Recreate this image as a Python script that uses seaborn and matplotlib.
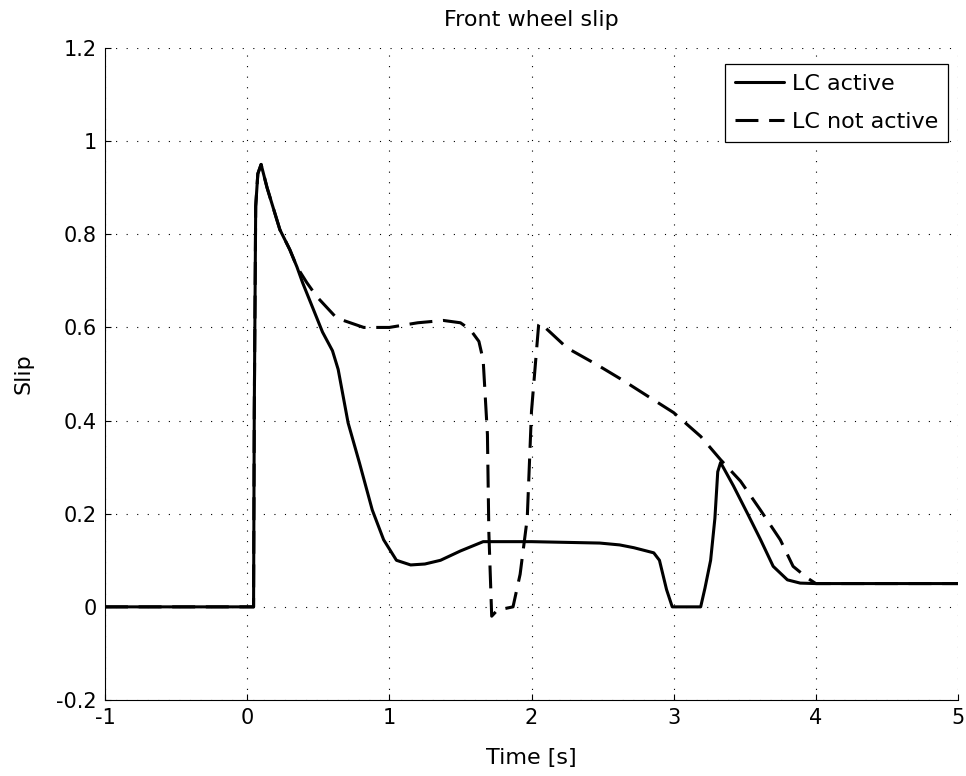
import matplotlib
matplotlib.use("Agg")
import matplotlib.pyplot as plt
from matplotlib.ticker import FuncFormatter
import seaborn as sns
import pandas as pd

# Front wheel slip with launch control (LC) active
time_active = [-1.0, 0.045, 0.05, 0.06, 0.075, 0.098, 0.14, 0.23, 0.30, 0.35,
               0.39, 0.53, 0.60, 0.64, 0.71, 0.79, 0.88, 0.96, 1.05, 1.15, 1.25,
               1.36, 1.50, 1.66, 1.70, 2.00, 2.48, 2.62, 2.72, 2.86, 2.90,
               2.95, 2.99, 3.19, 3.22, 3.26, 3.29, 3.31, 3.33, 3.42, 3.52,
               3.61, 3.70, 3.80, 3.89, 4.00, 5.00]
slip_active = [0.0, 0.0, 0.42, 0.86, 0.93, 0.95, 0.90, 0.81, 0.767, 0.73,
               0.696, 0.59, 0.55, 0.51, 0.395, 0.309, 0.208, 0.144, 0.10, 0.09, 0.092,
               0.10, 0.12, 0.14, 0.14, 0.14, 0.137, 0.133, 0.127, 0.116, 0.10,
               0.037, 0.0, 0.0, 0.04, 0.10, 0.19, 0.29, 0.31, 0.26, 0.20,
               0.145, 0.087, 0.058, 0.051, 0.05, 0.05]

# Front wheel slip without launch control
time_inactive = [-1.0, 0.045, 0.05, 0.06, 0.075, 0.098, 0.14, 0.23, 0.30, 0.35,
                 0.42, 0.49, 0.63, 0.82, 1.00, 1.20, 1.38, 1.50, 1.57, 1.63,
                 1.66, 1.69, 1.70, 1.72, 1.76, 1.87, 1.92, 1.97, 2.00, 2.05,
                 2.06, 2.25, 2.46, 2.64, 2.83, 3.00, 3.19, 3.33, 3.47, 3.61,
                 3.75, 3.84, 3.94, 4.00, 5.00]
slip_inactive = [0.0, 0.0, 0.42, 0.86, 0.93, 0.95, 0.90, 0.81, 0.767, 0.73,
                 0.696, 0.666, 0.62, 0.60, 0.60, 0.61, 0.615, 0.61, 0.595, 0.57,
                 0.53, 0.37, 0.16, -0.02, -0.007, 0.0, 0.07, 0.19, 0.42, 0.605,
                 0.61, 0.556, 0.52, 0.487, 0.45, 0.417, 0.366, 0.316, 0.27, 0.208,
                 0.144, 0.087, 0.062, 0.05, 0.05]

series_labels = ["LC active", "LC not active"]
x_ticks = [-1, 0, 1, 2, 3, 4, 5]
y_ticks = [-0.2, 0.0, 0.2, 0.4, 0.6, 0.8, 1.0, 1.2]

sns.set_style("white")
plt.rcParams["font.family"] = ["DejaVu Sans"]
plt.rcParams["axes.unicode_minus"] = False
plt.rcParams["text.color"] = "black"

fig = plt.figure(figsize=(9.66, 7.76), dpi=100)
ax = fig.add_axes([105 / 966, 1 - 700 / 776, 853 / 966, 652 / 776])

df_active = pd.DataFrame({"time": time_active, "slip": slip_active})
df_inactive = pd.DataFrame({"time": time_inactive, "slip": slip_inactive})

dash_pattern = (7.5, 3.5)

sns.lineplot(data=df_active, x="time", y="slip", ax=ax, color="black",
             linewidth=2.2, estimator=None, sort=False, label=series_labels[0])
sns.lineplot(data=df_inactive, x="time", y="slip", ax=ax, color="black",
             linewidth=2.2, estimator=None, sort=False, label=series_labels[1],
             dashes=False)
ax.lines[1].set_dashes(dash_pattern)

ax.set_xlim(-1, 5)
ax.set_ylim(-0.2, 1.2)
ax.set_xticks(x_ticks)
ax.set_yticks(y_ticks)
fmt = FuncFormatter(lambda v, p: f"{v:g}")
ax.xaxis.set_major_formatter(fmt)
ax.yaxis.set_major_formatter(fmt)

ax.grid(True, color="black", linestyle=(0, (1, 8.5)), linewidth=0.8)
for side in ("top", "right"):
    ax.spines[side].set_visible(False)
for side in ("left", "bottom"):
    ax.spines[side].set_color("black")
    ax.spines[side].set_linewidth(0.8)

ax.tick_params(direction="in", length=4, width=0.8, color="black",
               labelsize=15, pad=6, labelcolor="black",
               bottom=True, left=True)

ax.set_title("Front wheel slip", fontsize=16, color="black", pad=16)
ax.set_xlabel("Time [s]", fontsize=16, color="black", labelpad=14)
ax.set_ylabel("Slip", fontsize=16, color="black", labelpad=16)

leg = ax.legend(loc="upper right", bbox_to_anchor=(0.9883, 0.9755),
                borderaxespad=0, fontsize=16, frameon=True, fancybox=False,
                handlelength=2.2, handletextpad=0.35, labelspacing=0.8,
                borderpad=0.45, labelcolor="black")
frame = leg.get_frame()
frame.set_edgecolor("black")
frame.set_linewidth(0.9)
frame.set_facecolor("white")
frame.set_alpha(1)
leg.get_lines()[1].set_dashes(dash_pattern)

fig.savefig("out.png", dpi=100, facecolor="white")
